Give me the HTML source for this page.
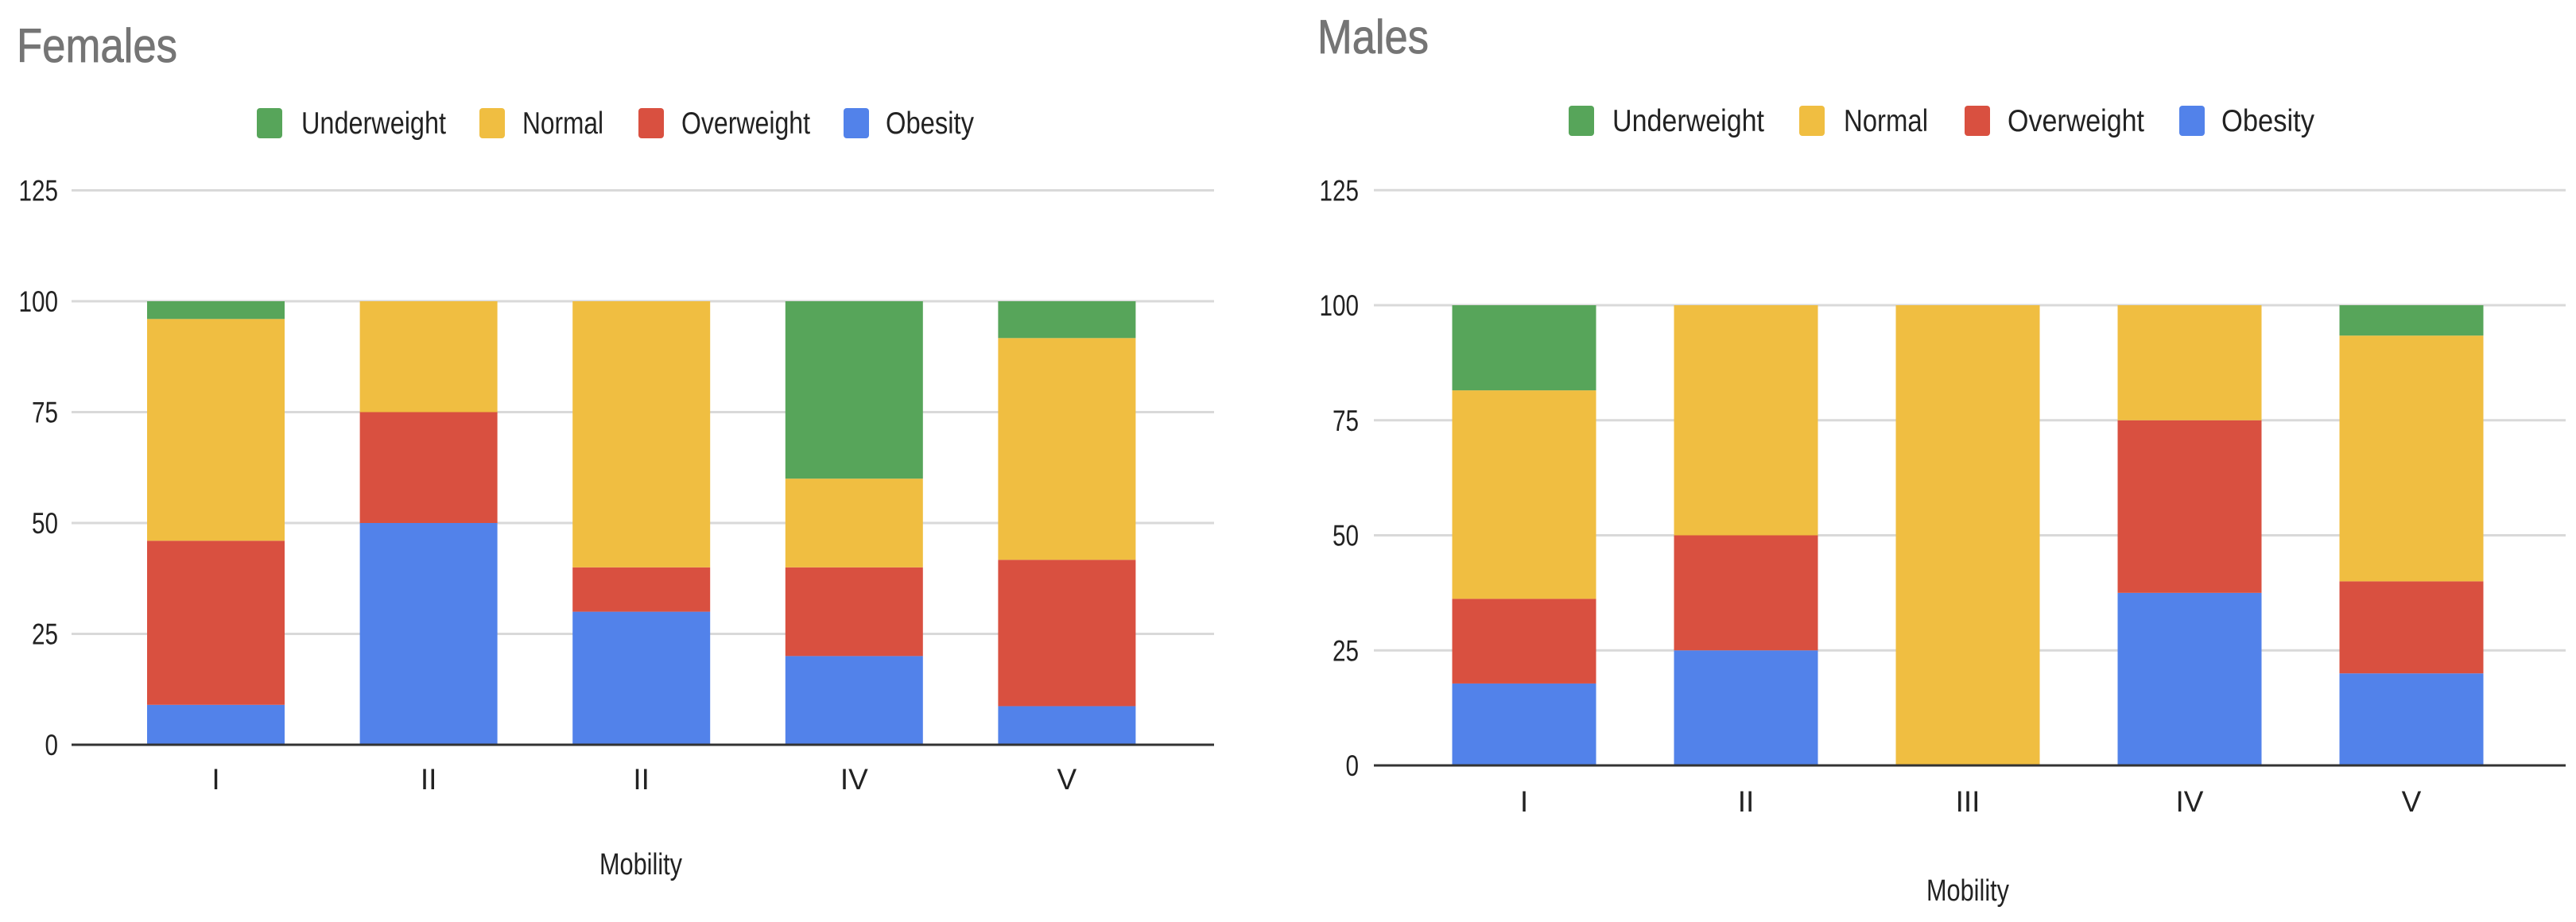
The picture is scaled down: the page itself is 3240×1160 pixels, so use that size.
<!DOCTYPE html>
<html><head><meta charset="utf-8"><style>
html,body{margin:0;padding:0;background:#fff;}
svg{display:block;font-family:"Liberation Sans",Arial,sans-serif;}
</style></head><body>
<svg id="chart" width="3240" height="1160" viewBox="0 0 3240 1160" xmlns="http://www.w3.org/2000/svg"></svg>
<script>
// ---- data ----
const categoriesF = ["I","II","II","IV","V"];
const categoriesM = ["I","II","III","IV","V"];
const seriesNames = ["Obesity","Overweight","Normal","Underweight"];
const femObesity = [9, 50, 30, 20, 8.7];
const femOverweight = [37, 25, 10, 20, 33];
const femNormal = [50, 25, 60, 20, 50];
const femUnderweight = [4, 0, 0, 40, 8.3];
const maleObesity = [17.8, 25, 0, 37.5, 20];
const maleOverweight = [18.4, 25, 0, 37.5, 20];
const maleNormal = [45.3, 50, 100, 25, 53.4];
const maleUnderweight = [18.5, 0, 0, 0, 6.6];
const yTicks = [0, 25, 50, 75, 100, 125];

const colors = {Underweight:"#57a55a", Normal:"#f0be41", Overweight:"#d95040", Obesity:"#5282ea"};
const NS = "http://www.w3.org/2000/svg";
const svg = document.getElementById("chart");
function mk(tag, attrs, parent){
  const e = document.createElementNS(NS, tag);
  for (const k in attrs) e.setAttribute(k, attrs[k]);
  (parent||svg).appendChild(e);
  return e;
}

function drawChart(cfg){
  const g = mk("g", {});
  
  
  const y = v => cfg.y0 - v * cfg.pxPerUnit;
  const x = i => cfg.c0 + i * cfg.step;

  const t = mk("text", {x: cfg.titleX, y: cfg.titleY, "font-size": 60, fill: "#757575", stroke: "#757575", "stroke-width": 0.8, textLength: cfg.titleLen, lengthAdjust: "spacingAndGlyphs"}, g);
  t.textContent = cfg.title;
  
  

  const legendOrder = ["Underweight","Normal","Overweight","Obesity"];
  legendOrder.forEach((name, i) => {
    const lg = mk("g", {}, g);
    
    
    mk("rect", {x: cfg.legSw[i], y: cfg.legY - 19, width: 32, height: 38, rx: 4, fill: colors[name]}, lg);
    const lt = mk("text", {x: cfg.legTx[i], y: cfg.legY + 13, "font-size": 39, fill: "#222", textLength: cfg.legLen[i], lengthAdjust: "spacingAndGlyphs"}, lg);
    lt.textContent = name;
  });

  yTicks.forEach(v => {
    if (v > 0) {
      const gl = mk("line", {x1: cfg.plotL, x2: cfg.plotR, y1: y(v), y2: y(v), stroke: "#d9d9d9", "stroke-width": 3}, g);
      
      
    }
    const yl = mk("text", {x: cfg.labR, y: y(v) + 13, "font-size": 37, fill: "#222", "text-anchor": "end", textLength: String(v).length * 16.5, lengthAdjust: "spacingAndGlyphs"}, g);
    yl.textContent = v;
    
    
  });

  const stacks = [cfg.data.Obesity, cfg.data.Overweight, cfg.data.Normal, cfg.data.Underweight];
  cfg.cats.forEach((c, i) => {
    let base = 0;
    stacks.forEach((arr, s) => {
      const v = arr[i];
      if (v > 0) {
        const r = mk("rect", {x: x(i) - cfg.bw/2, y: y(base + v), width: cfg.bw, height: v * cfg.pxPerUnit, fill: colors[seriesNames[s]]}, g);
        
        
      }
      base += v;
    });
    const xl = mk("text", {x: x(i), y: cfg.xLabY, "font-size": 37, fill: "#222", "text-anchor": "middle"}, g);
    xl.textContent = c;
    
    
  });

  const ax = mk("line", {x1: cfg.plotL, x2: cfg.plotR, y1: cfg.y0, y2: cfg.y0, stroke: "#333", "stroke-width": 3}, g);
  
  

  const xt = mk("text", {x: cfg.xTitleX, y: cfg.xTitleY, "font-size": 38, fill: "#222", "text-anchor": "middle", textLength: 104, lengthAdjust: "spacingAndGlyphs"}, g);
  xt.textContent = "Mobility";
  
  
}

drawChart({key:"females", title:"Females", titleX:21, titleY:78, titleLen:202,
  legY:155, legSw:[323,603,803,1061], legTx:[379,657,857,1114], legLen:[182,102,162,111],
  y0:937, pxPerUnit:5.58, plotL:90, plotR:1527, labR:73,
  c0:271.5, step:267.6, bw:173, cats:categoriesF, xLabY:993, xTitleX:806, xTitleY:1100,
  data:{Obesity:femObesity, Overweight:femOverweight, Normal:femNormal, Underweight:femUnderweight}});

drawChart({key:"males", title:"Males", titleX:1657, titleY:67, titleLen:140,
  legY:152, legSw:[1973,2263,2471,2741], legTx:[2028,2319,2525,2794], legLen:[191,106,172,117],
  y0:963, pxPerUnit:5.79, plotL:1728, plotR:3227, labR:1709,
  c0:1917, step:279, bw:181, cats:categoriesM, xLabY:1021, xTitleX:2475, xTitleY:1133,
  data:{Obesity:maleObesity, Overweight:maleOverweight, Normal:maleNormal, Underweight:maleUnderweight}});
</script>
</body></html>
